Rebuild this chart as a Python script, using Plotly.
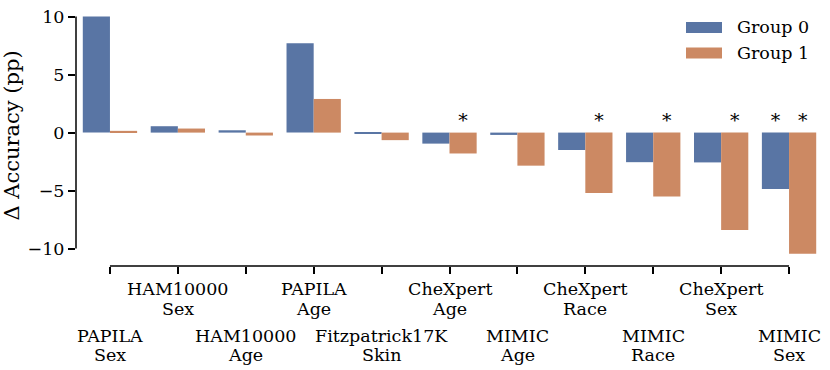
import plotly.graph_objects as go

datasets = ["PAPILA", "HAM10000", "HAM10000", "PAPILA", "Fitzpatrick17K", "CheXpert",
            "MIMIC", "CheXpert", "MIMIC", "CheXpert", "MIMIC"]
attributes = ["Sex", "Sex", "Age", "Age", "Skin", "Age", "Age", "Race", "Race", "Sex", "Sex"]

group_names = ["Group 0", "Group 1"]
group0 = [10.0, 0.55, 0.2, 7.7, -0.1, -0.95, -0.2, -1.5, -2.55, -2.57, -4.87]
group1 = [0.15, 0.35, -0.25, 2.9, -0.65, -1.8, -2.85, -5.2, -5.5, -8.4, -10.45]
sig0 = [0, 0, 0, 0, 0, 0, 0, 0, 0, 0, 1]
sig1 = [0, 0, 0, 0, 0, 1, 0, 1, 1, 1, 1]

colors = ["#5975A4", "#CC8963"]
FONT = "DejaVu Serif"
FS = 17.5

W, H = 830, 370
L, R, T, B = 76, 7, 5, 104

x = list(range(len(datasets)))


def px_x(p):
    return (p - L) / (W - L - R)


def px_y(p):
    return (H - B - p) / (H - B - T)


fig = go.Figure()
for name, vals, col in zip(group_names, [group0, group1], colors):
    fig.add_trace(go.Bar(x=x, y=vals, name=name, marker=dict(color=col, line=dict(width=0)),
                         showlegend=False))

# significance stars
for sig, off in [(sig0, -0.2), (sig1, 0.2)]:
    xs = [i + off for i in x if sig[i]]
    fig.add_trace(go.Scatter(x=xs, y=[0.9] * len(xs), mode="text", text=["*"] * len(xs),
                             textfont=dict(family=FONT, size=19, color="black"),
                             showlegend=False, hoverinfo="skip"))

# x labels in two staggered rows
annotations = []
for i in x:
    upper = i % 2 == 1
    s1, s2 = (-23, -43) if upper else (-70, -89)
    annotations.append(dict(x=i, y=0, xref="x", yref="paper", text=datasets[i], showarrow=False,
                            yanchor="middle", yshift=s1, font=dict(family=FONT, size=FS, color="black")))
    annotations.append(dict(x=i, y=0, xref="x", yref="paper", text=attributes[i], showarrow=False,
                            yanchor="middle", yshift=s2, font=dict(family=FONT, size=FS, color="black")))

# legend
shapes = []
for j, (name, col) in enumerate(zip(group_names, colors)):
    top = 22 + j * 25.5
    shapes.append(dict(type="rect", xref="paper", yref="paper", x0=px_x(686), x1=px_x(722),
                       y0=px_y(top + 11), y1=px_y(top), fillcolor=col, line=dict(width=0)))
    annotations.append(dict(x=px_x(735), y=px_y(top + 5.5), xref="paper", yref="paper", text=name,
                            showarrow=False, xanchor="left", yanchor="middle",
                            font=dict(family=FONT, size=FS, color="black")))

# trimmed spines
shapes.append(dict(type="line", xref="paper", yref="y", x0=0, x1=0, y0=-10, y1=10,
                   line=dict(color="black", width=1.5)))
shapes.append(dict(type="line", xref="x", yref="paper", x0=0, x1=10, y0=0, y1=0,
                   line=dict(color="black", width=1.5)))

fig.update_layout(
    width=W, height=H,
    margin=dict(l=L, r=R, t=T, b=B),
    plot_bgcolor="white", paper_bgcolor="white",
    barmode="group", bargap=0.2, bargroupgap=0,
    font=dict(family=FONT, size=FS, color="black"),
    annotations=annotations, shapes=shapes,
)
fig.update_xaxes(range=[-0.5, 10.5], tickvals=x, showticklabels=False, ticks="outside",
                 ticklen=7, tickwidth=1.5, tickcolor="black", showgrid=False, zeroline=False,
                 showline=False, automargin=False)
fig.update_yaxes(range=[-11.5, 11.0], tickvals=[-10, -5, 0, 5, 10], ticks="outside",
                 ticklen=7, tickwidth=1.5, tickcolor="black", showgrid=False, zeroline=False,
                 showline=False, automargin=False, title=dict(text="Δ Accuracy (pp)", standoff=8),
                 tickfont=dict(family=FONT, size=FS))

# page body margin would offset the figure by 8px
fig.write_html("out.html", config={"displayModeBar": False},
               post_script="document.body.style.margin='0px';")
